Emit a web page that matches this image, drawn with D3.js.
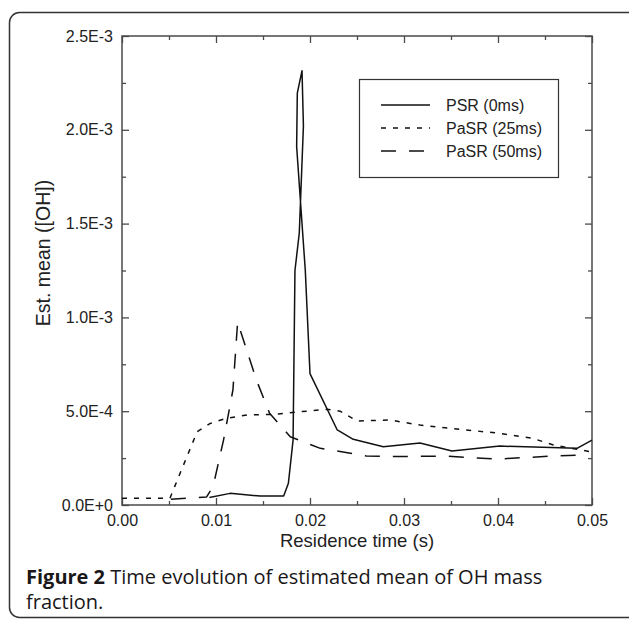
<!DOCTYPE html>
<html>
<head>
<meta charset="utf-8">
<script src="https://cdn.jsdelivr.net/npm/d3@7"></script>
<style>
  html, body { margin: 0; padding: 0; background: #fff; }
  svg { display: block; }
</style>
</head>
<body>
<div id="chart"></div>
<script>
'use strict';

// tick values
const xMajor = [0, 0.01, 0.02, 0.03, 0.04, 0.05];
const xMinor = [0.005, 0.015, 0.025, 0.035, 0.045];
const yMajor = [0, 0.0005, 0.001, 0.0015, 0.002, 0.0025];
const yMinor = [0.00025, 0.00075, 0.00125, 0.00175, 0.00225];

// series, [residence time (s), est. mean OH]
const psr = [
  [0.0093, 4.0e-5], [0.0115, 6.2e-5], [0.0147, 4.8e-5], [0.0172, 4.8e-5],
  [0.0177, 1.16e-4], [0.0182, 3.46e-4], [0.0184, 1.25e-3], [0.01886, 1.45e-3],
  [0.0193, 2.02e-3], [0.01915, 2.315e-3], [0.01865, 2.195e-3], [0.01858, 1.91e-3],
  [0.0195, 1.25e-3], [0.0200, 7.0e-4], [0.0229, 4.0e-4], [0.0246, 3.5e-4],
  [0.0278, 3.1e-4], [0.0317, 3.3e-4], [0.0351, 2.88e-4], [0.0402, 3.14e-4],
  [0.0484, 3.02e-4], [0.0500, 3.46e-4]
];
const pasr25 = [
  [0.0, 3.6e-5], [0.0051, 3.6e-5], [0.0056, 9.8e-5], [0.0069, 2.57e-4],
  [0.0080, 3.91e-4], [0.0094, 4.35e-4], [0.0111, 4.62e-4], [0.0133, 4.8e-4],
  [0.0161, 4.83e-4], [0.0189, 4.97e-4], [0.0218, 5.1e-4], [0.0232, 5.0e-4],
  [0.0250, 4.48e-4], [0.0285, 4.53e-4], [0.0317, 4.26e-4], [0.0349, 4.09e-4],
  [0.0402, 3.82e-4], [0.0437, 3.55e-4], [0.0459, 3.2e-4], [0.0497, 2.85e-4]
];
const pasr50 = [
  [0.0052, 3.0e-5], [0.0090, 4.3e-5], [0.0097, 1.0e-4], [0.0108, 3.46e-4],
  [0.0118, 6.13e-4], [0.0123, 9.75e-4], [0.0143, 6.66e-4], [0.0157, 4.89e-4],
  [0.0179, 3.64e-4], [0.0211, 3.02e-4], [0.0243, 2.76e-4], [0.0260, 2.61e-4],
  [0.0299, 2.58e-4], [0.0342, 2.61e-4], [0.0399, 2.45e-4], [0.0459, 2.61e-4],
  [0.0490, 2.67e-4]
];

const seriesNames = ['PSR (0ms)', 'PaSR (25ms)', 'PaSR (50ms)'];
const seriesData = [psr, pasr25, pasr50];
const dashes = [null, '5,7', '15,13'];

const width = 629;
const height = 620;
const plot = { left: 122, right: 592, top: 36, bottom: 505 };
const axisColor = '#4a4a4a';

const svg = d3.select('#chart')
  .append('svg')
  .attr('width', width)
  .attr('height', height);

// rounded figure frame, the right side runs off the page
svg.append('rect')
  .attr('x', 9.5)
  .attr('y', 12.5)
  .attr('width', 700)
  .attr('height', 605)
  .attr('rx', 10)
  .attr('fill', 'none')
  .attr('stroke', '#333')
  .attr('stroke-width', 1.5);

const x = d3.scaleLinear().domain([0, 0.05]).range([plot.left, plot.right]);
const y = d3.scaleLinear().domain([0, 0.0025]).range([plot.bottom, plot.top]);

function sciFormat(d) {
  if (d === 0) {
    return '0.0E+0';
  }
  const e = Math.floor(Math.log10(d) + 1e-9);
  const m = d / Math.pow(10, e);
  return m.toFixed(1) + 'E' + e;
}

// draws inward ticks on one side; labels only when fmt is given
function drawAxis(axisFn, scale, translate, major, minor, fmt, pad) {
  const gMinor = svg.append('g')
    .attr('transform', translate)
    .call(axisFn(scale).tickValues(minor).tickSize(-4).tickFormat(''));
  const gMajor = svg.append('g')
    .attr('transform', translate)
    .call(axisFn(scale).tickValues(major).tickSize(-7).tickPadding(pad || 0)
      .tickFormat(fmt || ''));
  [gMinor, gMajor].forEach(g => {
    g.select('.domain').remove();
    g.selectAll('line').attr('stroke', axisColor).attr('stroke-width', 1.3);
    g.selectAll('text')
      .attr('fill', '#222')
      .style('font-family', '"Liberation Sans", Arial, sans-serif')
      .style('font-size', '16px');
  });
  return gMajor;
}

drawAxis(d3.axisBottom, x, `translate(0,${plot.bottom})`, xMajor, xMinor, d3.format('.2f'), 10);
drawAxis(d3.axisTop, x, `translate(0,${plot.top})`, xMajor, xMinor);
drawAxis(d3.axisLeft, y, `translate(${plot.left},0)`, yMajor, yMinor, sciFormat, 9);
drawAxis(d3.axisRight, y, `translate(${plot.right},0)`, yMajor, yMinor);

// plot frame
svg.append('rect')
  .attr('x', plot.left)
  .attr('y', plot.top)
  .attr('width', plot.right - plot.left)
  .attr('height', plot.bottom - plot.top)
  .attr('fill', 'none')
  .attr('stroke', axisColor)
  .attr('stroke-width', 1.5);

const line = d3.line()
  .x(d => x(d[0]))
  .y(d => y(d[1]));

svg.append('g')
  .selectAll('path')
  .data(seriesData)
  .join('path')
  .attr('d', line)
  .attr('fill', 'none')
  .attr('stroke', '#111')
  .attr('stroke-width', 1.5)
  .attr('stroke-linejoin', 'round')
  .attr('stroke-dasharray', (d, i) => dashes[i]);

// axis titles
svg.append('text')
  .attr('x', (plot.left + plot.right) / 2)
  .attr('y', 547)
  .attr('text-anchor', 'middle')
  .attr('fill', '#222')
  .style('font-family', '"Liberation Sans", Arial, sans-serif')
  .style('font-size', '18.5px')
  .text('Residence time (s)');

svg.append('text')
  .attr('transform', 'translate(50,253) rotate(-90)')
  .attr('text-anchor', 'middle')
  .attr('fill', '#222')
  .style('font-family', '"Liberation Sans", Arial, sans-serif')
  .style('font-size', '19.5px')
  .text('Est. mean ([OH])');

// legend
const legend = svg.append('g');
legend.append('rect')
  .attr('x', 359.5)
  .attr('y', 79.5)
  .attr('width', 199)
  .attr('height', 98)
  .attr('fill', '#fff')
  .attr('stroke', '#333')
  .attr('stroke-width', 1.2);

const rows = legend.selectAll('g.row')
  .data(seriesNames)
  .join('g')
  .attr('class', 'row')
  .attr('transform', (d, i) => `translate(0,${105 + i * 23})`);
rows.append('line')
  .attr('x1', 381)
  .attr('x2', 430)
  .attr('stroke', '#111')
  .attr('stroke-width', 1.5)
  .attr('stroke-dasharray', (d, i) => dashes[i]);
rows.append('text')
  .attr('x', 446)
  .attr('y', 6)
  .attr('fill', '#222')
  .style('font-family', '"Liberation Sans", Arial, sans-serif')
  .style('font-size', '16px')
  .text(d => d);

// caption
const caption = svg.append('text')
  .attr('fill', '#1a1718')
  .style('font-family', '"Open Sans", "Noto Sans", sans-serif')
  .style('font-size', '20px');
const line1 = caption.append('tspan').attr('x', 26).attr('y', 584);
line1.append('tspan').style('font-weight', 700).text('Figure 2');
line1.append('tspan').style('font-weight', 400).text(' Time evolution of estimated mean of OH mass');
caption.append('tspan')
  .attr('x', 26)
  .attr('y', 609)
  .style('font-weight', 400)
  .text('fraction.');
</script>
</body>
</html>
